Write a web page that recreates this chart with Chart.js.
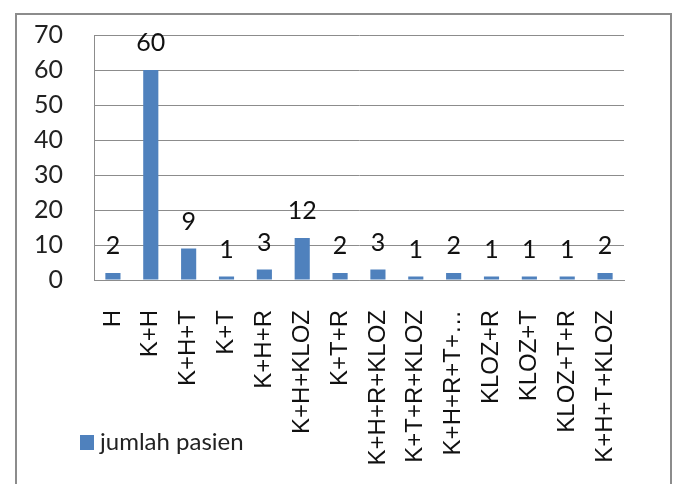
<!DOCTYPE html>
<html lang="id">
<head>
  <meta charset="UTF-8" />
  <title>jumlah pasien</title>
  <script src="https://cdn.jsdelivr.net/npm/chart.js@4"></script>
  <style>
    html, body { margin: 0; padding: 0; background: #fff; overflow: hidden; }
    #frame { position: absolute; left: 15px; top: 13px; width: 657px; height: 500px; border: 2px solid #8c8c8c; box-sizing: border-box; }
    #wrap { position: absolute; left: 0; top: -11px; width: 679px; height: 495px; }
  </style>
</head>
<body>
  <div id="frame"></div>
  <div id="wrap"><canvas id="chart"></canvas></div>
  <script>
    // data
    const categories = ["H", "K+H", "K+H+T", "K+T", "K+H+R", "K+H+KLOZ", "K+T+R", "K+H+R+KLOZ",
                        "K+T+R+KLOZ", "K+H+R+T+\u2026", "KLOZ+R", "KLOZ+T", "KLOZ+T+R", "K+H+T+KLOZ"];
    const jumlahPasien = [2, 60, 9, 1, 3, 12, 2, 3, 1, 2, 1, 1, 1, 2];
    const yTicks = [0, 10, 20, 30, 40, 50, 60, 70];

    // angka di atas batang
    const valueLabels = {
      id: "valueLabels",
      afterDatasetsDraw(chart) {
        const ctx = chart.ctx;
        ctx.save();
        ctx.font = "25px Lato";
        ctx.fillStyle = "#111";
        ctx.textAlign = "center";
        ctx.textBaseline = "middle";
        chart.getDatasetMeta(0).data.forEach((bar, i) => {
          ctx.fillText(String(chart.data.datasets[0].data[i]), bar.x, bar.y - 27);
        });
        ctx.restore();
      }
    };

    // legenda kiri bawah
    const bottomLegend = {
      id: "bottomLegend",
      afterDraw(chart) {
        const ctx = chart.ctx;
        const ds = chart.data.datasets[0];
        ctx.save();
        ctx.fillStyle = ds.backgroundColor;
        ctx.fillRect(80, 446, 14, 15);
        ctx.font = "24px Lato";
        ctx.fillStyle = "#222";
        ctx.textAlign = "left";
        ctx.textBaseline = "middle";
        ctx.fillText(ds.label, 100, 453);
        ctx.restore();
      }
    };

    new Chart(document.getElementById("chart"), {
      type: "bar",
      data: {
        labels: categories,
        datasets: [{
          label: "jumlah pasien",
          data: jumlahPasien,
          backgroundColor: "#4f81bd",
          categoryPercentage: 1,
          barPercentage: 0.4
        }]
      },
      options: {
        responsive: true,
        maintainAspectRatio: false,
        animation: false,
        layout: { padding: { left: 0, right: 55, top: 21, bottom: 0 } },
        plugins: { legend: { display: false }, tooltip: { enabled: false } },
        scales: {
          x: {
            grid: { display: false, drawTicks: false },
            border: { color: "#8c8c8c", width: 1 },
            ticks: {
              minRotation: 90, maxRotation: 90, autoSkip: false, padding: 30,
              color: "#111", font: { family: "Liberation Sans", size: 24 }
            },
            afterFit(scale) { scale.height = 204; }
          },
          y: {
            min: 0, max: 70,
            afterBuildTicks(scale) { scale.ticks = yTicks.map(v => ({ value: v })); },
            grid: { color: "#8c8c8c", lineWidth: 1, drawTicks: false },
            border: { color: "#8c8c8c", width: 1 },
            ticks: { padding: 31, color: "#222", font: { family: "Lato", size: 25 } },
            afterFit(scale) { scale.width = 94; }
          }
        }
      },
      plugins: [valueLabels, bottomLegend]
    });
  </script>
</body>
</html>
